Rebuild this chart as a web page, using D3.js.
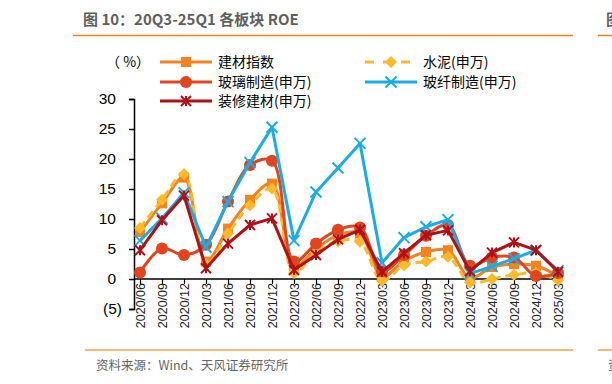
<!DOCTYPE html>
<html>
<head>
<meta charset="utf-8">
<script src="https://cdn.jsdelivr.net/npm/d3@7"></script>
<style>
  body { margin: 0; background: #fff; }
  svg text { font-family: "Liberation Sans", Arial, sans-serif; }
  .cjk { font-family: "Noto Sans CJK SC", "Liberation Sans", sans-serif; }
</style>
</head>
<body>
<div id="chart"></div>
<script>
// quarters, 2020/06 .. 2025/03
var quarters = ['2020/06','2020/09','2020/12','2021/03','2021/06','2021/09','2021/12',
  '2022/03','2022/06','2022/09','2022/12','2023/03','2023/06','2023/09','2023/12',
  '2024/03','2024/06','2024/09','2024/12','2025/03'];

var jiancai = [7.8, 12.6, 16.9, 2.9, 8.4, 13.2, 15.9, 2.1, 5.0, 7.3, 7.6, 0.4, 3.0, 4.5, 4.8, 0.2, 2.0, 2.5, 2.2, 0.5];
var shuini  = [8.5, 13.2, 17.5, 2.5, 7.6, 12.3, 15.1, 1.0, 4.5, 6.3, 6.2, -0.3, 2.3, 2.9, 3.7, -0.6, 0.0, 0.7, 1.0, -0.2];
var boli    = [1.1, 5.1, 4.0, 5.7, 12.9, 19.0, 19.7, 2.9, 5.9, 8.2, 8.6, 1.3, 4.0, 7.2, 9.0, 2.2, 3.6, 3.6, 0.5, 1.0];
var boxian  = [6.4, 10.1, 14.4, 5.3, 12.9, 19.4, 25.3, 6.4, 14.5, 18.5, 22.6, 2.7, 6.9, 8.7, 9.9, 0.9, 2.1, 3.4, 4.8, 1.4];
var zhuangxiu = [4.8, 9.8, 13.9, 1.8, 5.9, 9.0, 10.1, 1.5, 4.0, 6.6, 8.2, 1.2, 4.3, 7.3, 8.1, 1.3, 4.4, 6.1, 4.8, 1.2];

var yTicks = [-5, 0, 5, 10, 15, 20, 25, 30];

var series = [
  {name: '建材指数', values: jiancai, color: '#F5821F', marker: 'square', dash: null, smooth: true},
  {name: '水泥(申万)', values: shuini, color: '#FDB92A', marker: 'diamond', dash: '8 5', smooth: true},
  {name: '玻璃制造(申万)', values: boli, color: '#E0451F', marker: 'circle', dash: null, smooth: true},
  {name: '玻纤制造(申万)', values: boxian, color: '#1AADE5', marker: 'cross', dash: null, smooth: false},
  {name: '装修建材(申万)', values: zhuangxiu, color: '#B01116', marker: 'star', dash: null, smooth: false}
];

var W = 612, H = 384;
var svg = d3.select('#chart').append('svg')
  .attr('width', W).attr('height', H);

// header / footer decorations
svg.append('text').attr('class', 'cjk')
  .attr('x', 83).attr('y', 25)
  .attr('font-size', '15px').attr('font-weight', 'bold')
  .attr('fill', '#5f5f5f')
  .text('图 10：20Q3-25Q1 各板块 ROE');
svg.append('text').attr('class', 'cjk')
  .attr('x', 606).attr('y', 25)
  .attr('font-size', '15px').attr('font-weight', 'bold')
  .attr('fill', '#5f5f5f')
  .text('图');
svg.append('line').attr('x1', 73).attr('x2', 573).attr('y1', 35.5).attr('y2', 35.5)
  .style('stroke', '#F58220').style('stroke-width', 1.5);
svg.append('line').attr('x1', 598).attr('x2', 612).attr('y1', 35.5).attr('y2', 35.5)
  .style('stroke', '#F58220').style('stroke-width', 1.5);
svg.append('line').attr('x1', 85).attr('x2', 573).attr('y1', 350).attr('y2', 350)
  .style('stroke', '#F8A04A').style('stroke-width', 1.5);
svg.append('line').attr('x1', 598).attr('x2', 612).attr('y1', 350).attr('y2', 350)
  .style('stroke', '#F8A04A').style('stroke-width', 1.5);
svg.append('text').attr('class', 'cjk')
  .attr('x', 96).attr('y', 370)
  .attr('font-size', '12.5px').attr('fill', '#666')
  .text('资料来源：Wind、天风证券研究所');
svg.append('text').attr('class', 'cjk')
  .attr('x', 608).attr('y', 370)
  .attr('font-size', '12.5px').attr('fill', '#666')
  .text('资');

// scales
var xScale = d3.scalePoint().domain(quarters).range([140, 558]);
var yScale = d3.scaleLinear().domain([-5, 30]).range([309, 99]);

// y axis
var yAxis = svg.append('g')
  .attr('class', 'yaxis')
  .attr('transform', 'translate(134,0)')
  .call(d3.axisLeft(yScale).tickValues(yTicks).tickSize(5).tickPadding(13)
    .tickFormat(function(d) { return d < 0 ? '(' + Math.abs(d) + ')' : d; }));
yAxis.selectAll('text')
  .style('font-size', '15.5px').style('fill', '#000')
  .attr('font-family', '"Liberation Sans", Arial, sans-serif')
  .attr('dx', function(d) { return d < 0 ? 6 : 0; });
yAxis.selectAll('line, path').style('stroke', '#000').style('stroke-width', 1.5);

// x axis at zero
var xAxis = svg.append('g')
  .attr('class', 'xaxis')
  .attr('transform', 'translate(0,' + yScale(0) + ')')
  .call(d3.axisBottom(xScale).tickSize(5).tickSizeOuter(0));
xAxis.select('path.domain').attr('d', 'M134,0H' + (xScale.range()[1] + 2))
  .style('stroke', '#000').style('stroke-width', 1.5);
xAxis.selectAll('line').style('stroke', '#000').style('stroke-width', 1.2);
xAxis.selectAll('text')
  .attr('transform', 'rotate(-90)')
  .attr('x', -4).attr('y', 0).attr('dy', '0.35em')
  .style('text-anchor', 'end')
  .style('font-size', '12.5px')
  .style('fill', '#222')
  .attr('font-family', '"Liberation Sans", Arial, sans-serif');

// marker drawing
function drawMarker(g, type, color, size) {
  var s = size;
  if (type === 'square') {
    g.append('rect').attr('x', -s / 2).attr('y', -s / 2).attr('width', s).attr('height', s)
      .style('fill', color);
  } else if (type === 'diamond') {
    g.append('path').attr('d', 'M0,' + (-s * 0.6) + 'L' + (s * 0.6) + ',0L0,' + (s * 0.6) + 'L' + (-s * 0.6) + ',0Z')
      .style('fill', color);
  } else if (type === 'circle') {
    g.append('circle').attr('r', s * 0.6).style('fill', color);
  } else if (type === 'cross') {
    var h = s * 0.55;
    g.append('path').attr('d', 'M' + (-h) + ',' + (-h) + 'L' + h + ',' + h + 'M' + h + ',' + (-h) + 'L' + (-h) + ',' + h)
      .style('stroke', color).style('stroke-width', 2).style('fill', 'none');
  } else if (type === 'star') {
    var k = s * 0.5;
    g.append('path').attr('d', 'M' + (-k) + ',' + (-k) + 'L' + k + ',' + k + 'M' + k + ',' + (-k) + 'L' + (-k) + ',' + k + 'M0,' + (-k) + 'L0,' + k)
      .style('stroke', color).style('stroke-width', 2).style('fill', 'none');
  }
}

series.forEach(function(s) {
  var line = d3.line()
    .x(function(d, i) { return xScale(quarters[i]); })
    .y(function(d) { return yScale(d); })
    .curve(s.smooth ? d3.curveCatmullRom.alpha(0.5) : d3.curveLinear);

  svg.append('path')
    .datum(s.values)
    .attr('d', line)
    .style('fill', 'none')
    .style('stroke', s.color)
    .style('stroke-width', 3)
    .style('stroke-linejoin', 'round')
    .style('stroke-dasharray', s.dash);

  s.values.forEach(function(v, i) {
    var g = svg.append('g')
      .attr('transform', 'translate(' + xScale(quarters[i]) + ',' + yScale(v) + ')');
    drawMarker(g, s.marker, s.color, 10);
  });
});

// legend
svg.append('text').attr('class', 'cjk')
  .attr('x', 106).attr('y', 67)
  .attr('font-size', '14px').attr('fill', '#000')
  .text('（ %）');

var legendPos = [
  {x: 160, y: 62}, {x: 365, y: 62},
  {x: 160, y: 82}, {x: 365, y: 82},
  {x: 160, y: 101}
];
series.forEach(function(s, i) {
  var p = legendPos[i];
  var g = svg.append('g').attr('transform', 'translate(' + p.x + ',' + p.y + ')');
  g.append('line').attr('x1', 0).attr('x2', 52).attr('y1', 0).attr('y2', 0)
    .style('stroke', s.color).style('stroke-width', 3)
    .style('stroke-dasharray', s.dash ? '9 9' : null);
  var m = g.append('g').attr('transform', 'translate(26,0)');
  drawMarker(m, s.marker, s.color, 10);
  g.append('text').attr('class', 'cjk')
    .attr('x', 58).attr('y', 0).attr('dy', '0.36em')
    .attr('font-size', '14px').attr('fill', '#000')
    .text(s.name);
});
</script>
</body>
</html>
